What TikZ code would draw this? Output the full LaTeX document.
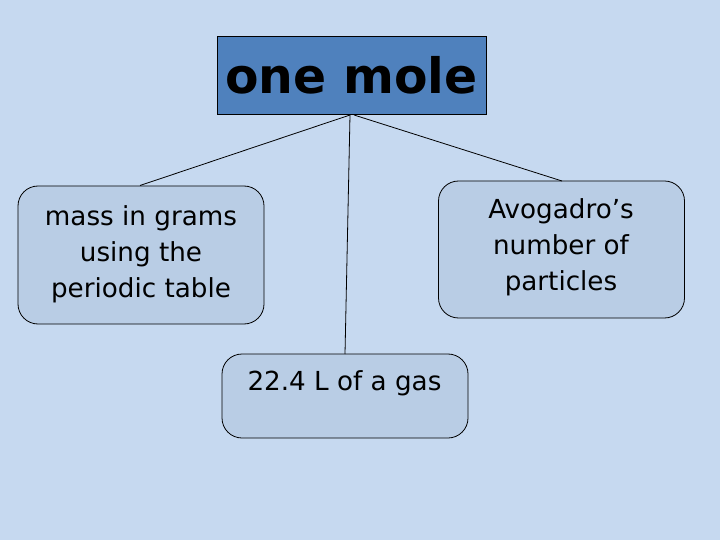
\documentclass[tikz,border=0pt]{standalone}
\usepackage{fontspec}
\setmainfont{DejaVu Sans}
\definecolor{bgc}{HTML}{C6D9F0}
\definecolor{topc}{HTML}{4F81BD}
\definecolor{boxc}{HTML}{B9CDE5}
\begin{document}
\begin{tikzpicture}[x=1bp,y=-1bp,
  leaf/.style={draw=black,fill=boxc,rounded corners=20bp,line width=0.8bp,minimum width=246bp,inner sep=0pt},
  lbl/.style={font=\fontsize{26.3}{36}\selectfont,align=center,inner sep=0pt},
  conn/.style={draw=black,line width=0.8bp}]
\fill[bgc] (0,0) rectangle (720,540);
\useasboundingbox (0,0) rectangle (720,540);
\node[draw=black,fill=topc,line width=0.8bp,minimum width=269bp,minimum height=78bp,inner sep=0pt,
  font=\fontsize{49}{56}\selectfont\bfseries] (top) at (351.5,75) {one mole};
\node[leaf,minimum height=138bp] (left) at (141,255) {};
\node[leaf,minimum height=137bp] (right) at (561.5,249.5) {};
\node[leaf,minimum height=84bp] (bot) at (345,396) {};
\node[lbl] (lt) at (141,254) {mass in grams\\using the\\periodic table};
\node[lbl] (rt) at (561,247) {Avogadro’s\\number of\\particles};
\node[lbl] (bt) at (344.5,383) {22.4 L of a gas};
\coordinate (c1) at (350,115);
\coordinate (c2) at (354,115);
\draw[conn] (c1) -- (140,185.5);
\draw[conn] (c1) -- (345,354);
\draw[conn] (c2) -- (562,181);
\end{tikzpicture}
\end{document}
